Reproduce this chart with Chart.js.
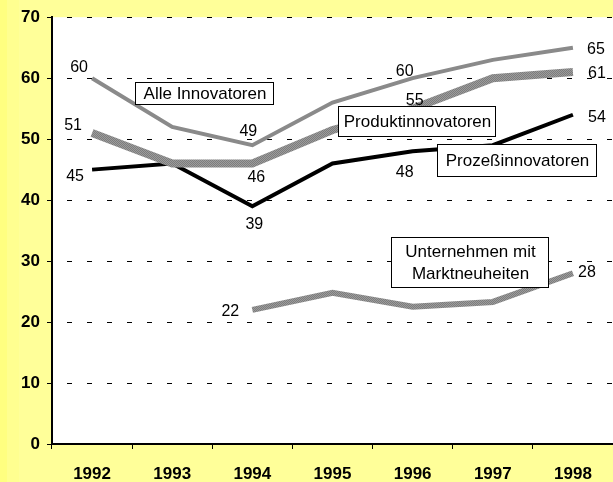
<!DOCTYPE html>
<html>
<head>
<meta charset="utf-8">
<script src="https://cdn.jsdelivr.net/npm/chart.js@4.4.0/dist/chart.umd.min.js"></script>
<style>
  html, body { margin: 0; padding: 0; background: #ffff99; }
  #wrap { width: 613px; height: 482px; }
</style>
</head>
<body>
<div id="wrap"><canvas id="myChart" width="613" height="482"></canvas></div>
<script>
// Daten
const jahre = ['1992', '1993', '1994', '1995', '1996', '1997', '1998']
const alleInnovatoren = [60, 52, 49, 56, 60, 63, 65]
const produktInnovatoren = [51, 46, 46, 51.5, 55, 60, 61]
const prozessInnovatoren = [45, 46, 39, 46, 48, 49, 54]
const marktneuheiten = [null, null, 22, 24.8, 22.5, 23.3, 28]

const schrift = '"Liberation Sans", Arial, sans-serif'

// graues Karomuster für die dicken Linien
function muster(){
  const c = document.createElement('canvas')
  c.width = 2; c.height = 2
  const g = c.getContext('2d')
  g.fillStyle = '#9c9c9c'; g.fillRect(0, 0, 2, 2)
  g.fillStyle = '#7c7c7c'; g.fillRect(0, 0, 1, 1); g.fillRect(1, 1, 1, 1)
  return g.createPattern(c, 'repeat')
}
const karo = muster()

// Wertebeschriftungen: [Datensatz, Index, dx, dy]
const beschriftungen = [
  [0, 0, -13, -11], [0, 2, -4, -14], [0, 4, -8, -7], [0, 6, 23, 2],
  [1, 0, -19, -7], [1, 2, 4, 14], [1, 4, 2, -8], [1, 6, 24, 2],
  [2, 0, -17, 7], [2, 2, 2, 18], [2, 4, -8, 21], [2, 6, 24, 3],
  [3, 2, -22, 2], [3, 6, 14, -1]
]

// Textkästen
const kaesten = [
  { x: 135, y: 82, w: 138, h: 22, text: ['Alle Innovatoren'] },
  { x: 338, y: 106, w: 157, h: 30, text: ['Produktinnovatoren'] },
  { x: 437, y: 144, w: 159, h: 32, text: ['Prozeßinnovatoren'] },
  { x: 391, y: 237, w: 157, h: 50, text: ['Unternehmen mit', 'Marktneuheiten'] }
]

const hintergrund = {
  id: 'hintergrund',
  beforeDraw(chart){
    const {ctx, chartArea: a, width, height} = chart
    ctx.save()
    ctx.fillStyle = '#ffff99'
    ctx.fillRect(0, 0, width, height)
    ctx.fillStyle = '#ffff80'
    ctx.fillRect(0, 0, 7, height)
    ctx.fillStyle = '#ffff90'
    ctx.fillRect(7, 0, 12, height)
    ctx.fillStyle = '#ffffff'
    ctx.fillRect(a.left, a.top, a.right - a.left, a.bottom - a.top)
    ctx.restore()
  }
}

const texte = {
  id: 'texte',
  afterDraw(chart){
    const ctx = chart.ctx
    ctx.save()
    ctx.font = '16px ' + schrift
    ctx.fillStyle = '#000'
    ctx.textAlign = 'center'
    ctx.textBaseline = 'middle'
    beschriftungen.forEach(([d, i, dx, dy]) => {
      const p = chart.getDatasetMeta(d).data[i]
      const v = chart.data.datasets[d].data[i]
      ctx.fillText(String(Math.round(v)), p.x + dx, p.y + dy)
    })
    ctx.font = '17px ' + schrift
    kaesten.forEach(k => {
      ctx.fillStyle = '#fff'
      ctx.fillRect(k.x, k.y, k.w, k.h)
      ctx.strokeStyle = '#000'
      ctx.lineWidth = 1
      ctx.strokeRect(k.x + 0.5, k.y + 0.5, k.w, k.h)
      ctx.fillStyle = '#000'
      const mitte = k.y + k.h / 2
      const n = k.text.length
      k.text.forEach((t, j) => {
        ctx.fillText(t, k.x + k.w / 2 + 1, mitte + (j - (n - 1) / 2) * 22 + 1)
      })
    })
    ctx.restore()
  }
}

const ctx = document.getElementById('myChart')

const data = {
  labels: jahre,
  datasets: [
    { label: 'Alle Innovatoren', data: alleInnovatoren, borderColor: '#8a8a8a', borderWidth: 4 },
    { label: 'Produktinnovatoren', data: produktInnovatoren, borderColor: karo, borderWidth: 8 },
    { label: 'Prozeßinnovatoren', data: prozessInnovatoren, borderColor: '#000000', borderWidth: 4 },
    { label: 'Unternehmen mit Marktneuheiten', data: marktneuheiten, borderColor: karo, borderWidth: 6 }
  ]
}

const config = {
  type: 'line',
  data: data,
  options: {
    responsive: false,
    animation: false,
    events: [],
    layout: { padding: { top: 17, right: 0, left: 0, bottom: 0 } },
    elements: {
      line: { tension: 0, fill: false, borderCapStyle: 'butt', borderJoinStyle: 'miter' },
      point: { radius: 0, hoverRadius: 0 }
    },
    plugins: {
      legend: { display: false },
      tooltip: { enabled: false },
      title: { display: false }
    },
    scales: {
      x: {
        offset: true,
        afterFit(s){ s.height = 38 },
        grid: { display: true, offset: true, drawOnChartArea: false, drawTicks: true, tickLength: 5, color: '#000', lineWidth: 1 },
        border: { display: true, color: '#000', width: 2 },
        ticks: { color: '#000', font: { family: schrift, size: 17, weight: 'bold' }, padding: 15, maxRotation: 0 }
      },
      y: {
        min: 0,
        max: 70,
        afterFit(s){ s.width = 52 },
        ticks: { stepSize: 10, color: '#000', font: { family: schrift, size: 17, weight: 'bold' }, padding: 7 },
        grid: { color: '#000', lineWidth: 1, tickLength: 5 },
        border: { display: true, color: '#000', width: 2, dash: [5, 15], dashOffset: 6 }
      }
    }
  },
  plugins: [hintergrund, texte]
}

const myChart = new Chart(ctx, config)
</script>
</body>
</html>
